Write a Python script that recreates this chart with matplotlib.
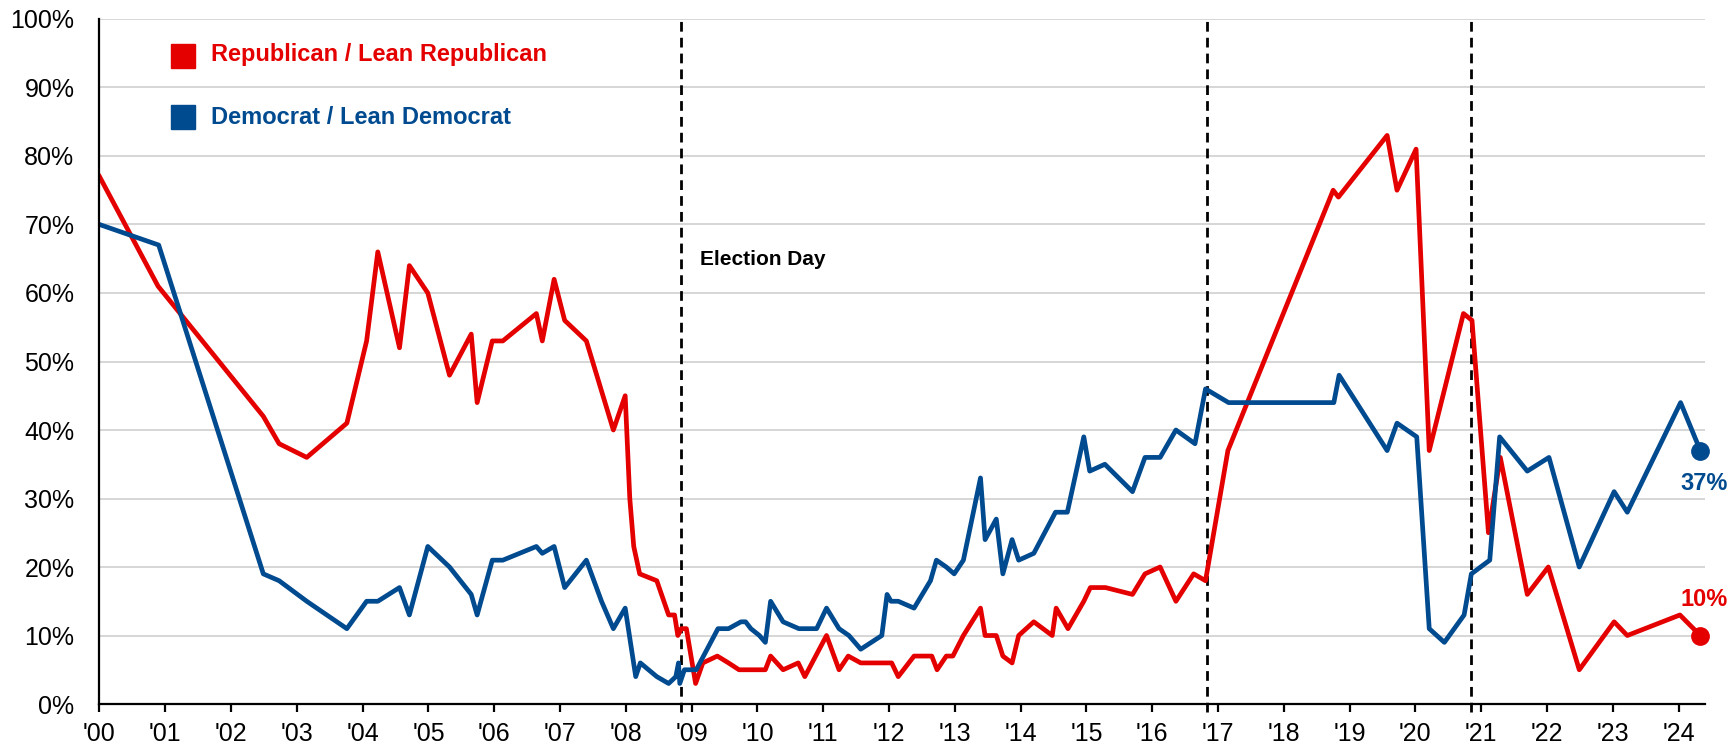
import matplotlib
matplotlib.use("Agg")
import matplotlib.pyplot as plt
from matplotlib.patches import Rectangle
from matplotlib.ticker import FuncFormatter, MultipleLocator

plt.rcParams['font.family'] = ['Liberation Sans', 'DejaVu Sans']

# survey dates as years after 2000, share answering yes (%)
rep_dates = [0.0, 0.89, 2.49, 2.73, 3.15, 3.76, 4.06, 4.23, 4.56, 4.71, 4.99,
             5.32, 5.65, 5.74, 5.97, 6.13, 6.64, 6.73, 6.91, 7.07, 7.40, 7.81,
             7.99, 8.06, 8.12, 8.21, 8.47, 8.65, 8.74, 8.79, 8.84, 8.92, 9.06,
             9.17, 9.39, 9.56, 9.72, 10.12, 10.20, 10.39, 10.62, 10.72, 11.05,
             11.24, 11.38, 11.57, 12.04, 12.14, 12.38, 12.65, 12.73, 12.87,
             12.97, 13.13, 13.39, 13.46, 13.63, 13.73, 13.87, 13.97, 14.20,
             14.48, 14.54, 14.72, 14.96, 15.06, 15.29, 15.70, 15.89, 16.12,
             16.36, 16.63, 16.81, 17.15, 18.75, 18.83, 19.57, 19.72, 20.01,
             20.21, 20.73, 20.86, 21.11, 21.29, 21.70, 22.02, 22.49, 23.02,
             23.22, 24.02, 24.33]
rep_vals = [77, 61, 42, 38, 36, 41, 53, 66, 52, 64, 60,
            48, 54, 44, 53, 53, 57, 53, 62, 56, 53, 40,
            45, 30, 23, 19, 18, 13, 13, 10, 11, 11, 3,
            6, 7, 6, 5, 5, 7, 5, 6, 4, 10,
            5, 7, 6, 6, 4, 7, 7, 5, 7,
            7, 10, 14, 10, 10, 7, 6, 10, 12,
            10, 14, 11, 15, 17, 17, 16, 19, 20,
            15, 19, 18, 37, 75, 74, 83, 75, 81,
            37, 57, 56, 25, 36, 16, 20, 5, 12,
            10, 13, 10]

dem_dates = [0.0, 0.90, 2.49, 2.73, 3.15, 3.76, 4.06, 4.23, 4.56, 4.71, 4.99,
             5.32, 5.65, 5.74, 5.97, 6.13, 6.64, 6.73, 6.91, 7.07, 7.40, 7.63,
             7.81, 7.99, 8.15, 8.22, 8.47, 8.65, 8.76, 8.80, 8.82, 8.89, 9.07,
             9.40, 9.56, 9.75, 9.82, 9.90, 10.03, 10.12, 10.20, 10.39, 10.63,
             10.90, 11.05, 11.24, 11.39, 11.57, 11.89, 11.97, 12.03, 12.14,
             12.38, 12.63, 12.72, 12.87, 12.99, 13.13, 13.39, 13.46, 13.63,
             13.73, 13.87, 13.97, 14.20, 14.53, 14.71, 14.96, 15.05, 15.28,
             15.70, 15.89, 16.12, 16.36, 16.65, 16.81, 17.16, 18.76, 18.84,
             19.57, 19.72, 20.02, 20.21, 20.44, 20.74, 20.85, 21.13, 21.28,
             21.70, 22.03, 22.49, 23.02, 23.22, 24.03, 24.33]
dem_vals = [70, 67, 19, 18, 15, 11, 15, 15, 17, 13, 23,
            20, 16, 13, 21, 21, 23, 22, 23, 17, 21, 15,
            11, 14, 4, 6, 4, 3, 4, 6, 3, 5, 5,
            11, 11, 12, 12, 11, 10, 9, 15, 12, 11,
            11, 14, 11, 10, 8, 10, 16, 15, 15,
            14, 18, 21, 20, 19, 21, 33, 24, 27,
            19, 24, 21, 22, 28, 28, 39, 34, 35,
            31, 36, 36, 40, 38, 46, 44, 44, 48,
            37, 41, 39, 11, 9, 13, 19, 21, 39,
            34, 36, 20, 31, 28, 44, 37]

election_days = [8.84, 16.84, 20.84]
year_labels = ["'%02d" % y for y in range(25)]

RED = '#E50000'
BLUE = '#004A8F'

fig = plt.figure(figsize=(17.36, 7.5), dpi=100)
ax = fig.add_axes([0.0573, 0.0613, 0.9248, 0.9134])

for d in election_days:
    ax.plot([d, d], [-1.2, 100], color='black', lw=2, dashes=(3.5, 2.2),
            clip_on=False, zorder=2)

ax.plot(rep_dates, rep_vals, color=RED, lw=3.4, zorder=3)
ax.plot(dem_dates, dem_vals, color=BLUE, lw=3.4, zorder=3)

# end points with their latest values
ax.plot(rep_dates[-1], rep_vals[-1], 'o', color=RED, ms=12.5, clip_on=False, zorder=4)
ax.plot(dem_dates[-1], dem_vals[-1], 'o', color=BLUE, ms=12.5, clip_on=False, zorder=4)
ax.annotate('%d%%' % rep_vals[-1], (rep_dates[-1], rep_vals[-1]),
            xytext=(3, 26), textcoords='offset points', ha='center', va='center',
            color=RED, fontsize=17, fontweight='bold', annotation_clip=False)
ax.annotate('%d%%' % dem_vals[-1], (dem_dates[-1], dem_vals[-1]),
            xytext=(3, -24), textcoords='offset points', ha='center', va='center',
            color=BLUE, fontsize=17, fontweight='bold', annotation_clip=False)

ax.text(9.13, 64.1, 'Election Day', fontsize=15, fontweight='bold',
        va='baseline', ha='left')

ax.set_xlim(0, 24.4)
ax.set_ylim(0, 100)
ax.yaxis.set_major_locator(MultipleLocator(10))
ax.yaxis.set_major_formatter(FuncFormatter(lambda v, p: '%d%%' % v))
ax.set_xticks(range(25))
ax.set_xticklabels(year_labels)
ax.grid(axis='y', color='#CCCCCC', lw=1.1)
ax.set_axisbelow(True)

for s in ['top', 'right']:
    ax.spines[s].set_visible(False)
for s in ['left', 'bottom']:
    ax.spines[s].set_linewidth(1.6)
    ax.spines[s].set_zorder(5)

ax.tick_params(axis='y', length=0, pad=18, labelsize=18)
ax.tick_params(axis='x', length=6, width=1.6, direction='out', pad=7, labelsize=18)

# legend squares and labels
ax.add_patch(Rectangle((0.0445, 0.929), 0.01495, 0.035, transform=ax.transAxes,
                       color=RED, clip_on=False))
ax.add_patch(Rectangle((0.0445, 0.8394), 0.01495, 0.035, transform=ax.transAxes,
                       color=BLUE, clip_on=False))
ax.text(0.0693, 0.939, 'Republican / Lean Republican', transform=ax.transAxes,
        color=RED, fontsize=17, fontweight='bold', va='baseline')
ax.text(0.0693, 0.846, 'Democrat / Lean Democrat', transform=ax.transAxes,
        color=BLUE, fontsize=17, fontweight='bold', va='baseline')

fig.savefig('out.png', dpi=100)
